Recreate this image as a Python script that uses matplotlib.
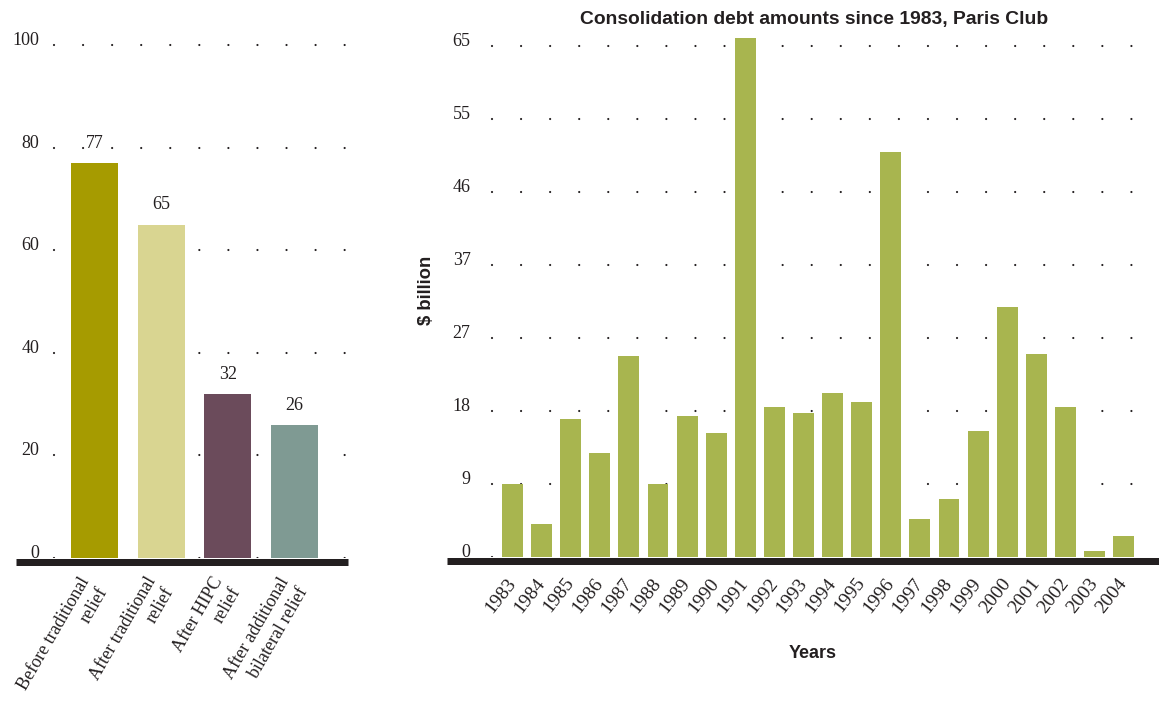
import matplotlib
matplotlib.use("Agg")
import matplotlib.pyplot as plt
import numpy as np

# ---- data ----
relief_categories = ["Before traditional\nrelief", "After traditional\nrelief",
                     "After HIPC\nrelief", "After additional\nbilateral relief"]
relief_values = [77, 65, 32, 26]
relief_colors = ["#a69b00", "#d9d591", "#6b4b5b", "#7f9a93"]
left_ticks = [0, 20, 40, 60, 80, 100]

years = ["1983", "1984", "1985", "1986", "1987", "1988", "1989", "1990", "1991",
         "1992", "1993", "1994", "1995", "1996", "1997", "1998", "1999", "2000",
         "2001", "2002", "2003", "2004"]
debt_amounts = [9.3, 4.2, 17.6, 13.2, 25.6, 9.3, 17.9, 15.8, 66.0, 19.1, 18.3,
                20.9, 19.7, 51.5, 4.8, 7.4, 16.0, 31.8, 25.8, 19.1, 0.8, 2.7]
right_tick_labels = ["0", "9", "18", "27", "37", "46", "55", "65"]

TXT = "#231f20"
SERIF = "Liberation Serif"
SANS = "Liberation Sans"
plt.rcParams["lines.scale_dashes"] = False

W, H = 1159, 702
fig = plt.figure(figsize=(W / 100, H / 100), dpi=100)

def px_axes(left, right, bottom, top):
    return fig.add_axes([left / W, (H - bottom) / H, (right - left) / W, (bottom - top) / H])

PT = 72 / 100  # points per pixel

def style_axes(ax, xpad):
    ax.set_axisbelow(True)
    for s in ("left", "right", "top"):
        ax.spines[s].set_visible(False)
    ax.spines["bottom"].set_linewidth(7 * PT)
    ax.spines["bottom"].set_color(TXT)
    ax.spines["bottom"].set_position(("outward", 3.5 * PT))
    ax.spines["bottom"].set_capstyle("butt")
    ax.grid(False)
    ax.tick_params(axis="both", length=0)
    ax.tick_params(axis="y", pad=-23.5 * PT)
    ax.tick_params(axis="x", pad=xpad)

def dotted_grid(ax, ticks, start_frac):
    for t in ticks:
        ax.axhline(t, xmin=start_frac, xmax=1, color=TXT, linewidth=1.6,
                   linestyle=(0, (0.01, 29.05 * PT)), dash_capstyle="round", zorder=0.5)

def ylabels(ax, labels):
    ax.set_yticklabels(labels, family=SERIF, fontsize=13, color=TXT,
                       va="baseline", ha="right")

# ---- left chart ----
axL = px_axes(16, 348, 558, 558 - 101 * 5.13)
style_axes(axL, 16)
xL = np.arange(len(relief_values))
bars = axL.bar(xL, relief_values, width=0.705, color=relief_colors, edgecolor="none",
               zorder=2)
axL.set_xlim(-1.177, 3.801)
axL.set_ylim(0, 101)
axL.set_yticks(left_ticks)
ylabels(axL, [str(t) for t in left_ticks])
dotted_grid(axL, left_ticks, 38 / 332)
axL.set_xticks(xL)
axL.set_xticklabels(relief_categories, rotation=60, ha="right", va="center",
                    rotation_mode="anchor", family=SERIF, fontsize=13, color=TXT,
                    linespacing=1.3)
axL.bar_label(bars, labels=[str(v) for v in relief_values], padding=8,
              family=SERIF, fontsize=13, color=TXT)

# ---- right chart ----
ppu = 511 / 65
axR = px_axes(447, 1159, 557, 557 - 66.5 * ppu)
style_axes(axR, 14)
xR = np.arange(len(years))
axR.bar(xR, debt_amounts, width=0.72, color="#a8b54f", edgecolor="none", zorder=2)
axR.set_xlim(-2.251, 22.216)
axR.set_ylim(0, 66.5)
right_ticks = np.linspace(0, 65, len(right_tick_labels))
axR.set_yticks(right_ticks)
ylabels(axR, right_tick_labels)
dotted_grid(axR, right_ticks, 45 / 712)
axR.set_xticks(xR)
axR.set_xticklabels(years, rotation=52, ha="right", va="center", rotation_mode="anchor",
                    family=SERIF, fontsize=14, color=TXT)
axR.set_title("Consolidation debt amounts since 1983, Paris Club", x=0.515, pad=7,
              family=SANS, fontweight="bold", fontsize=13.9, color=TXT)
axR.set_ylabel("$ billion", family=SANS, fontweight="bold", fontsize=13.3, color=TXT)
axR.yaxis.set_label_coords(-0.017, 0.51)
axR.set_xlabel("Years", family=SANS, fontweight="bold", fontsize=13, color=TXT)
axR.xaxis.set_label_coords(0.514, -0.169)

fig.savefig("out.png", dpi=100)
